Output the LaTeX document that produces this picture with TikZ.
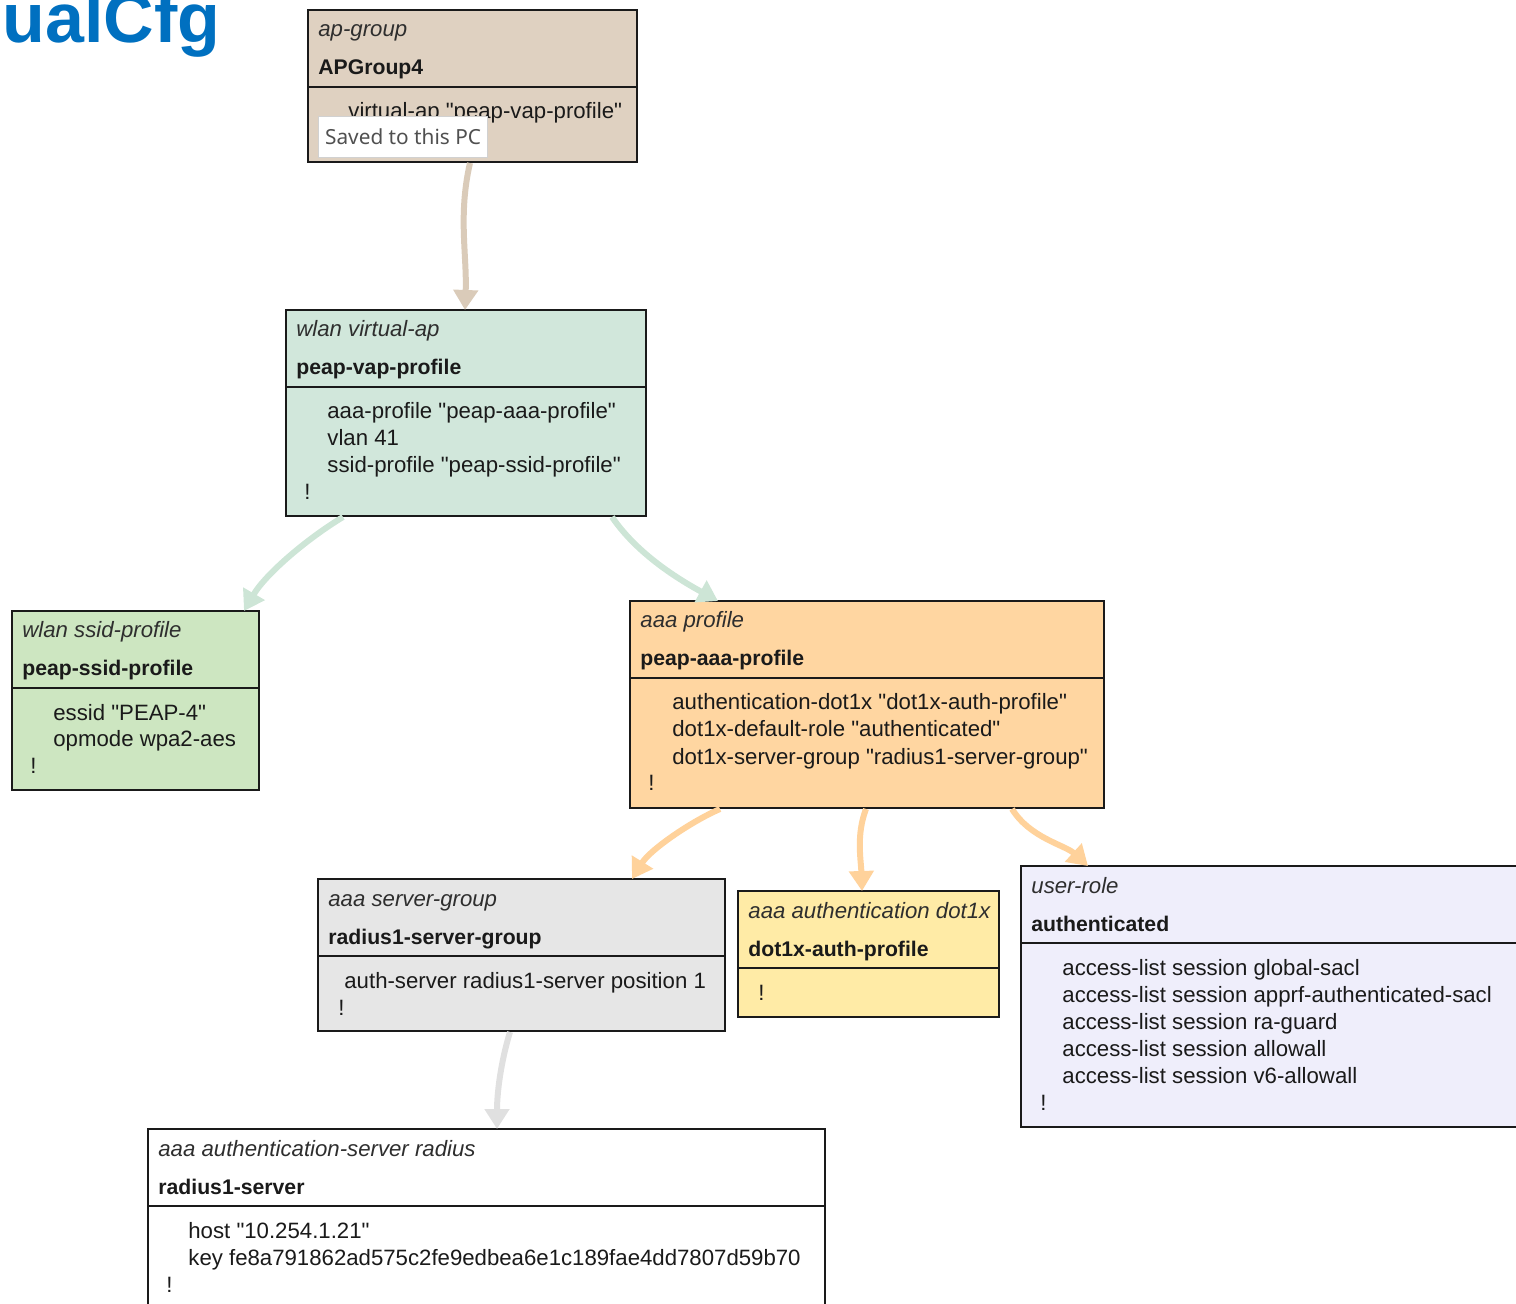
\documentclass[tikz,border=0pt]{standalone}
\usepackage{fontspec}
\setmainfont{Liberation Sans}[Ligatures=TeXOff]
\newfontfamily\popfont{Noto Sans}
\usetikzlibrary{arrows.meta,calc}
\definecolor{txt}{HTML}{1A1A1A}
\definecolor{ttlc}{HTML}{2E2E2E}
\definecolor{ctan}{HTML}{DFD1C1}
\definecolor{cmint}{HTML}{D1E7DB}
\definecolor{cgreen}{HTML}{CDE6C1}
\definecolor{cpeach}{HTML}{FFD6A1}
\definecolor{cgray}{HTML}{E6E6E6}
\definecolor{cyel}{HTML}{FFEBA6}
\definecolor{clav}{HTML}{EFEEFB}
\definecolor{atan}{HTML}{DACBB9}
\definecolor{amint}{HTML}{CDE5D6}
\definecolor{apeach}{HTML}{FFD29B}
\definecolor{agray}{HTML}{E0E0E0}
\definecolor{titleblue}{HTML}{0070C0}
\definecolor{popgray}{HTML}{505050}
\newcommand\cfgbox[8]{%
  \node[cbox, fill=#6, minimum width={(#4-#2)*0.5pt}, minimum height={(#5-#3)*0.5pt}] (#1) at (#2,#3) {};
  \draw[boxline] ($(#1.north west)+(0,77)$) -- ($(#1.north east)+(0,77)$);
  \node[ttl] (#1-t) at ($(#1.north west)+(10,27)$) {#7};
  \node[nm] (#1-n) at ($(#1.north west)+(10,65)$) {#8};
}
% name, id, dx, line index, text
\newcommand\bline[5]{%
  \node[bd] (#1-#2) at ($(#1.north west)+(#3,109+27*#4)$) {#5};
}
\begin{document}
\begin{tikzpicture}[x=0.5pt,y=-0.5pt,
  font=\fontsize{11.1}{13.5}\selectfont,
  cbox/.style={draw=txt, line width=1pt, anchor=north west, inner sep=0pt, outer sep=0pt},
  boxline/.style={draw=txt, line width=1pt},
  ttl/.style={anchor=base west, inner sep=0pt, font=\fontsize{11.1}{13.5}\selectfont\itshape, text=ttlc},
  nm/.style={anchor=base west, inner sep=0pt, font=\fontsize{10.6}{13.5}\selectfont\bfseries, text=txt},
  bd/.style={anchor=base west, inner sep=0pt, text=txt},
  arr/.style={draw=#1, line width=3pt, -{Triangle[width=12pt,length=10pt]}},
  popup/.style={draw=black!18, fill=white, line width=0.6pt, anchor=north west, inner sep=0pt,
     minimum width=84.5pt, minimum height=20.5pt, font=\popfont\fontsize{10.4}{12}\selectfont, text=popgray}
]
\useasboundingbox (0,0) rectangle (1516,1304);
\clip (0,0) rectangle (1516,1304);

% title fragment
\node[anchor=base east, inner sep=0pt, text=titleblue, font=\fontsize{35}{40}\selectfont\bfseries] (title) at (221,43) {ualCfg};

% boxes
\cfgbox{ap}{308}{10}{637}{162}{ctan}{ap-group}{APGroup4}
\bline{ap}{b1}{40}{0}{virtual-ap "peap-vap-profile"}

\cfgbox{vap}{286}{310}{646}{516}{cmint}{wlan virtual-ap}{peap-vap-profile}
\bline{vap}{b1}{41}{0}{aaa-profile "peap-aaa-profile"}
\bline{vap}{b2}{41}{1}{vlan 41}
\bline{vap}{b3}{41}{2}{ssid-profile "peap-ssid-profile"}
\bline{vap}{b4}{18}{3}{!}

\cfgbox{ssid}{12}{611}{259}{790}{cgreen}{wlan ssid-profile}{peap-ssid-profile}
\bline{ssid}{b1}{41}{0}{essid "PEAP-4"}
\bline{ssid}{b2}{41}{1}{opmode wpa2-aes}
\bline{ssid}{b3}{18}{2}{!}

\cfgbox{aaa}{630}{601}{1104}{808}{cpeach}{aaa profile}{peap-aaa-profile}
\bline{aaa}{b1}{42}{0}{authentication-dot1x "dot1x-auth-profile"}
\bline{aaa}{b2}{42}{1}{dot1x-default-role "authenticated"}
\bline{aaa}{b3}{42}{2}{dot1x-server-group "radius1-server-group"}
\bline{aaa}{b4}{18}{3}{!}

\cfgbox{sg}{318}{879}{725}{1031}{cgray}{aaa server-group}{radius1-server-group}
\bline{sg}{b1}{26}{0}{auth-server radius1-server position 1}
\bline{sg}{b2}{20}{1}{!}

\cfgbox{dx}{738}{891}{999}{1017}{cyel}{aaa authentication dot1x}{dot1x-auth-profile}
\bline{dx}{b1}{20}{0}{!}

\cfgbox{ur}{1021}{866}{1530}{1127}{clav}{user-role}{authenticated}
\bline{ur}{b1}{41}{0}{access-list session global-sacl}
\bline{ur}{b2}{41}{1}{access-list session apprf-authenticated-sacl}
\bline{ur}{b3}{41}{2}{access-list session ra-guard}
\bline{ur}{b4}{41}{3}{access-list session allowall}
\bline{ur}{b5}{41}{4}{access-list session v6-allowall}
\bline{ur}{b6}{19}{5}{!}

\cfgbox{rad}{148}{1129}{825}{1330}{white}{aaa authentication-server radius}{radius1-server}
\bline{rad}{b1}{40}{0}{host "10.254.1.21"}
\bline{rad}{b2}{40}{1}{key fe8a791862ad575c2fe9edbea6e1c189fae4dd7807d59b70}
\bline{rad}{b3}{18}{2}{!}

% popup
\node[popup] (saved) at (318,116) {Saved to this PC};

% connectors
\draw[arr=atan] ($(ap.south west)+(162,1)$) .. controls (458,215) and (467,255) .. ($(vap.north west)+(179,0)$);
\draw[arr=amint] ($(vap.south west)+(57,1)$) .. controls (305,540) and (265,575) .. ($(ssid.north west)+(232,0)$);
\draw[arr=amint] ($(vap.south west)+(326,1)$) .. controls (638,555) and (680,580) .. ($(aaa.north west)+(88,0)$);
\draw[arr=apeach] ($(aaa.south west)+(90,1)$) .. controls (690,822) and (650,850) .. ($(sg.north west)+(314,0)$);
\draw[arr=apeach] ($(aaa.south west)+(236,1)$) .. controls (856,835) and (861,860) .. ($(dx.north west)+(124,0)$);
\draw[arr=apeach] ($(aaa.south west)+(382,1)$) .. controls (1030,838) and (1065,845) .. ($(ur.north west)+(67,0)$);
\draw[arr=agray] ($(sg.south west)+(192,1)$) .. controls (500,1065) and (497,1095) .. ($(rad.north west)+(349,0)$);
\end{tikzpicture}
\end{document}
